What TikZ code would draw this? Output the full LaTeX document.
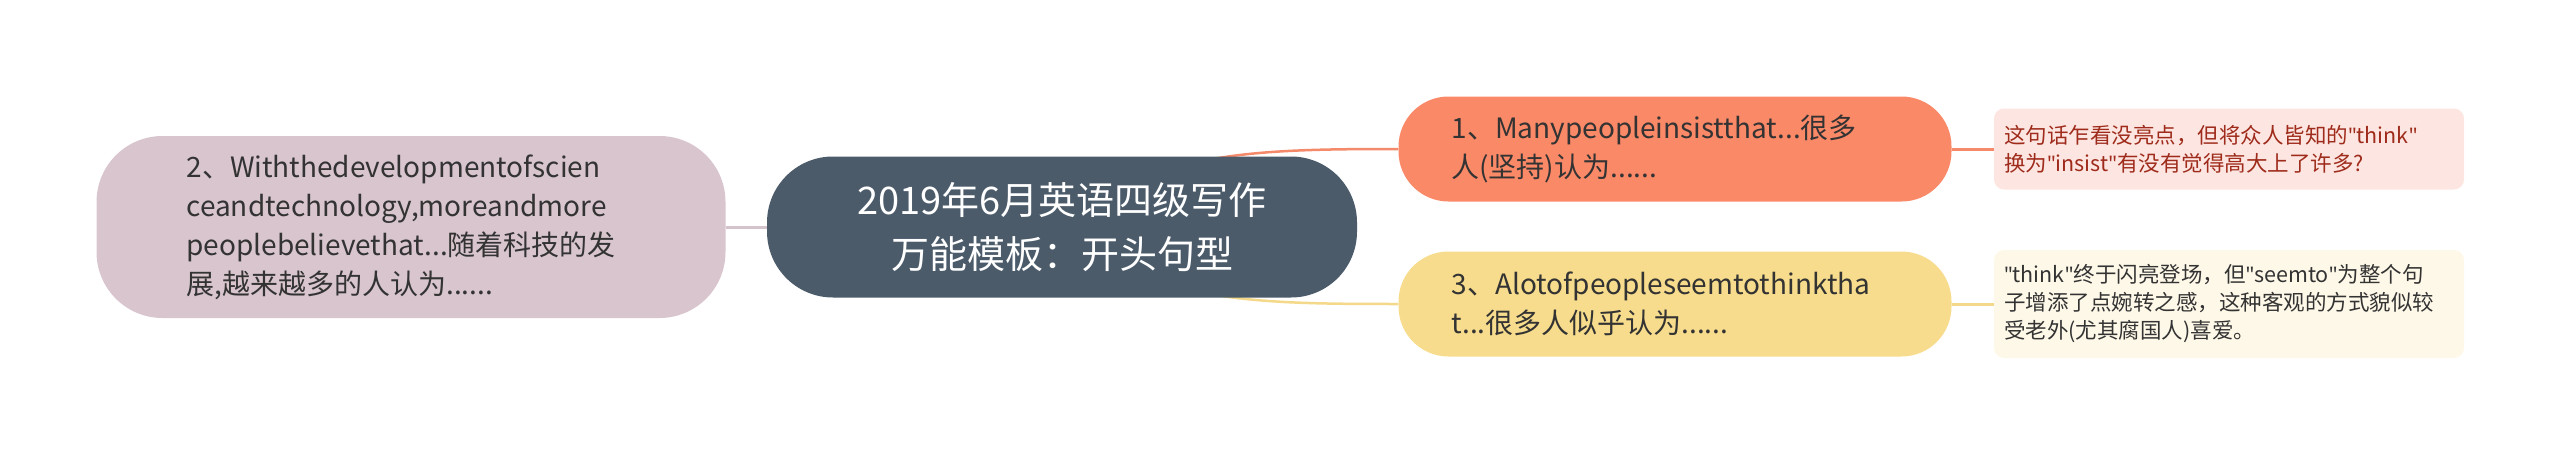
\documentclass[tikz,border=0pt]{standalone}
\usepackage{fontspec}
\setmainfont{Noto Sans CJK SC}
\newfontfamily\quotefont{Noto Sans}
\newcommand\qt{{\quotefont"}}
\usetikzlibrary{backgrounds}
\definecolor{rootfill}{HTML}{4B5B6A}
\definecolor{leftfill}{HTML}{D8C5CE}
\definecolor{salmonfill}{HTML}{FA8968}
\definecolor{sandfill}{HTML}{F6DC8C}
\definecolor{pinknote}{HTML}{FDE6E1}
\definecolor{creamnote}{HTML}{FEF8E8}
\definecolor{redtext}{HTML}{9E2B1B}
\definecolor{darktext}{HTML}{333333}
\definecolor{leftline}{HTML}{D5C3CC}
\definecolor{salmonline}{HTML}{F48A6A}
\definecolor{sandline}{HTML}{F5D98A}

\begin{document}
\begin{tikzpicture}[x=1pt, y=-1pt,
  rootbox/.style={fill=rootfill, text=white, rounded corners=66pt, align=center,
    minimum width=590pt, minimum height=141pt, font=\fontsize{38}{54}\selectfont},
  topicbox/.style={text=darktext, align=left, inner ysep=0pt,
    font=\fontsize{28}{39}\selectfont},
  notebox/.style={rounded corners=10pt, align=left, inner xsep=10pt, inner ysep=0pt,
    text width=450pt, minimum width=470pt, font=\fontsize{21.5}{28}\selectfont},
  link/.style={line width=3pt}]
  \useasboundingbox (0,0) rectangle (2560,455);

  % centre topic
  \node[rootbox] (root) at (1062,227) {2019年6月英语四级写作\\万能模板：开头句型};

  % left branch
  \node[topicbox, fill=leftfill, rounded corners=66pt, text width=449pt, inner xsep=90pt,
    minimum height=182pt] (two) at (411,227)
    {2、Withthedevelopmentofscien\\ceandtechnology,moreandmore\\peoplebelievethat...随着科技的发\\展,越来越多的人认为......};

  % right branches
  \node[topicbox, fill=salmonfill, rounded corners=50pt, text width=447pt, inner xsep=53pt,
    minimum height=105pt] (one) at (1675,149)
    {1、Manypeopleinsistthat...很多\\人(坚持)认为......};
  \node[topicbox, fill=sandfill, rounded corners=50pt, text width=447pt, inner xsep=53pt,
    minimum height=105pt] (three) at (1675,304)
    {3、Alotofpeopleseemtothinktha\\t...很多人似乎认为......};

  % notes
  \node[notebox, fill=pinknote, text=redtext, minimum height=81pt] (noteone) at (2229,149)
    {这句话乍看没亮点，但将众人皆知的\qt think\qt\\换为\qt insist\qt 有没有觉得高大上了许多?};
  \node[notebox, fill=creamnote, text=darktext, minimum height=108pt] (notethree) at (2229,304)
    {\qt think\qt 终于闪亮登场，但\qt seemto\qt 为整个句\\子增添了点婉转之感，这种客观的方式貌似较\\受老外(尤其腐国人)喜爱。};

  \begin{scope}[on background layer]
    \draw[link, leftline] (root.west) -- (two.east);
    \draw[line width=2.5pt, salmonline] (root.center) .. controls +(90,-75) and +(-150,0) .. (one.west);
    \draw[line width=2.5pt, sandline] (root.center) .. controls +(90,75) and +(-150,0) .. (three.west);
    \draw[link, salmonline] (one.east) -- (noteone.west);
    \draw[link, sandline] (three.east) -- (notethree.west);
  \end{scope}
\end{tikzpicture}
\end{document}
